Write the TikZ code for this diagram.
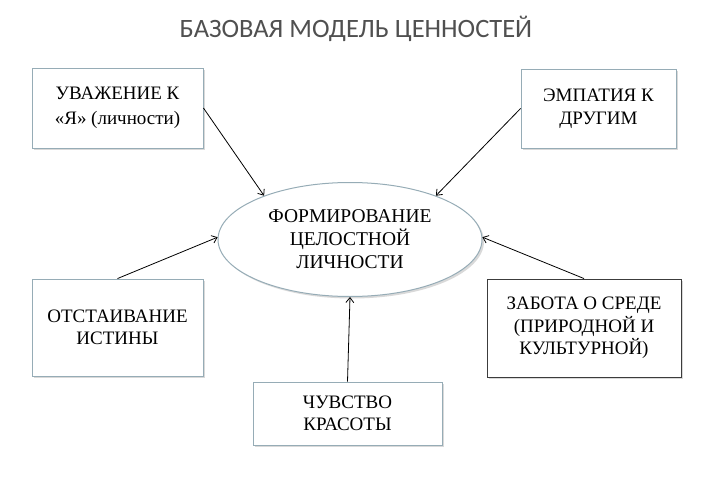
\documentclass[tikz,border=0pt]{standalone}
\usepackage{fontspec}
\setmainfont{Liberation Serif}
\newfontfamily\titlefont{Carlito}
\usetikzlibrary{arrows.meta,arrows}
\usetikzlibrary{shapes.geometric,shadows}

\definecolor{boxline}{RGB}{150,172,182}
\definecolor{darkline}{RGB}{60,60,60}
\definecolor{titlegray}{RGB}{80,80,80}

\tikzset{
  softshadow/.style={drop shadow={shadow xshift=2pt,shadow yshift=-2pt,
      fill=black,opacity=0.15}},
  valbox/.style={rectangle,draw=boxline,line width=0.9pt,fill=white,
      align=center,inner sep=0pt,softshadow,
      font=\fontsize{19}{22.5}\selectfont},
  centre/.style={ellipse,draw=boxline,line width=1pt,fill=white,
      align=center,inner sep=0pt,softshadow,
      font=\fontsize{19.5}{23}\selectfont}
}

\begin{document}
\begin{tikzpicture}[x=1pt,y=-1pt]
        \useasboundingbox (0,0) rectangle (701,484);

        \node[font=\titlefont\fontsize{26.5}{30}\selectfont,text=titlegray,anchor=base]
            (title) at (356,38) {БАЗОВАЯ МОДЕЛЬ ЦЕННОСТЕЙ};

        \begin{scope}[every node/.style={valbox}]
            \node[minimum width=171pt,minimum height=80pt,
                font=\fontsize{19}{25}\selectfont]
                (respect) at (117.5,108) {УВАЖЕНИЕ К\\«Я» (личности)};
            \node[minimum width=155pt,minimum height=79pt]
                (empathy) at (598.5,108.5) {ЭМПАТИЯ К\\ДРУГИМ};
            \node[minimum width=171pt,minimum height=97pt]
                (truth) at (117.5,327.5) {ОТСТАИВАНИЕ\\ИСТИНЫ};
            \node[minimum width=194pt,minimum height=98pt,draw=darkline]
                (nature) at (584,328) {ЗАБОТА О СРЕДЕ\\(ПРИРОДНОЙ И\\КУЛЬТУРНОЙ)};
            \node[minimum width=189pt,minimum height=63pt]
                (beauty) at (347.5,413.5) {ЧУВСТВО\\КРАСОТЫ};
        \end{scope}

        \node[centre,minimum width=264pt,minimum height=114pt]
            (whole) at (350,239.5) {ФОРМИРОВАНИЕ\\ЦЕЛОСТНОЙ\\ЛИЧНОСТИ};

        \begin{scope}[>={Straight Barb[length=5pt,width=8pt]},line width=0.8pt]
            \path [->] (respect.east) edge (whole.153);
            \path [->] (empathy.west) edge (whole.27);
            \path [->] (truth.north) edge (whole.179);
            \path [->] (nature.north) edge (whole.1);
            \path [->] (beauty.north) edge (whole.south);
        \end{scope}
    \end{tikzpicture}
\end{document}
